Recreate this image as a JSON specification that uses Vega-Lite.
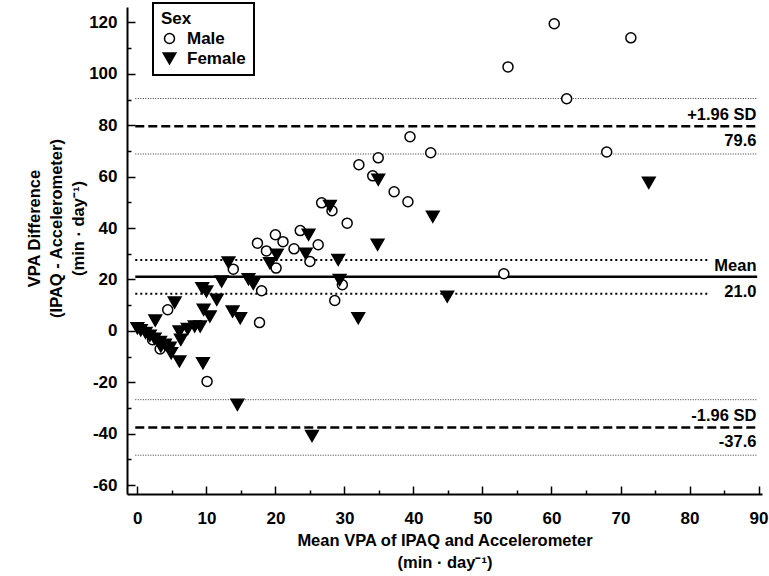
{
  "$schema": "https://vega.github.io/schema/vega-lite/v6.json",
  "width": 635,
  "height": 487,
  "autosize": {"type": "none"},
  "padding": {"left": 127, "top": 7, "right": 7, "bottom": 82},
  "background": "white",
  "config": {
    "view": {"stroke": null},
    "font": "Liberation Sans",
    "legend": {"strokeWidth": 2},
    "axis": {
      "grid": false,
      "domainColor": "black",
      "domainWidth": 2,
      "tickColor": "black",
      "tickWidth": 1.5,
      "labelColor": "black",
      "titleColor": "black",
      "labelFont": "Liberation Sans",
      "titleFont": "Liberation Sans",
      "labelFontSize": 17,
      "labelFontWeight": "bold",
      "titleFontSize": 16.5,
      "titleFontWeight": "bold",
      "titleLineHeight": 22,
      "labelFlush": false,
      "labelOverlap": false
    }
  },
  "encoding": {
    "x": {
      "field": "x",
      "type": "quantitative",
      "scale": {"domain": [-1.5, 90.5], "nice": false, "zero": false},
      "axis": {
        "values": [0, 5, 10, 15, 20, 25, 30, 35, 40, 45, 50, 55, 60, 65, 70, 75, 80, 85, 90],
        "labelExpr": "datum.value % 10 === 0 ? datum.label : ''",
        "tickSize": {"condition": {"test": "datum.value % 10 === 0", "value": -8}, "value": -4},
        "labelPadding": 24,
        "titlePadding": 2,
        "title": ["Mean VPA of IPAQ and Accelerometer", "(min · day⁻¹)"]
      }
    },
    "y": {
      "field": "y",
      "type": "quantitative",
      "scale": {"domain": [-63.5, 126], "nice": false, "zero": false},
      "axis": {
        "values": [-60, -50, -40, -30, -20, -10, 0, 10, 20, 30, 40, 50, 60, 70, 80, 90, 100, 110, 120],
        "labelExpr": "datum.value % 20 === 0 ? replace(datum.label, '−', '-') : ''",
        "tickSize": {"condition": {"test": "datum.value % 20 === 0", "value": -8}, "value": -4},
        "labelPadding": 18,
        "titlePadding": 2,
        "titleY": 221,
        "title": ["VPA Difference", "(IPAQ - Accelerometer)", "(min · day⁻¹)"]
      }
    }
  },
  "layer": [
    {
      "data": {"values": [
        {"x": -0.3, "xe": 89.8, "y": 90.4},
        {"x": -0.3, "xe": 89.8, "y": 68.8},
        {"x": -0.3, "xe": 89.8, "y": -26.8},
        {"x": -0.3, "xe": 89.8, "y": -48.4}
      ]},
      "mark": {"type": "rule", "strokeDash": [1, 1.5], "strokeWidth": 1, "color": "#333333"},
      "encoding": {"x2": {"field": "xe"}}
    },
    {
      "data": {"values": [
        {"x": -0.3, "xe": 83.0, "y": 27.6},
        {"x": -0.3, "xe": 83.0, "y": 14.4}
      ]},
      "mark": {"type": "rule", "strokeDash": [2, 3], "strokeWidth": 2, "color": "black"},
      "encoding": {"x2": {"field": "xe"}}
    },
    {
      "data": {"values": [
        {"x": -0.3, "xe": 89.8, "y": 79.6},
        {"x": -0.3, "xe": 89.8, "y": -37.6}
      ]},
      "mark": {"type": "rule", "strokeDash": [9, 4], "strokeWidth": 2.5, "color": "black"},
      "encoding": {"x2": {"field": "xe"}}
    },
    {
      "data": {"values": [
        {"x": -0.3, "xe": 89.8, "y": 21.0}
      ]},
      "mark": {"type": "rule", "strokeWidth": 2.5, "color": "black"},
      "encoding": {"x2": {"field": "xe"}}
    },
    {
      "data": {"values": [
        {"x": 60.4, "y": 119.5, "sex": "Male"},
        {"x": 71.5, "y": 114.0, "sex": "Male"},
        {"x": 53.7, "y": 102.7, "sex": "Male"},
        {"x": 62.2, "y": 90.3, "sex": "Male"},
        {"x": 39.5, "y": 75.5, "sex": "Male"},
        {"x": 42.5, "y": 69.3, "sex": "Male"},
        {"x": 68.0, "y": 69.6, "sex": "Male"},
        {"x": 34.9, "y": 67.3, "sex": "Male"},
        {"x": 32.1, "y": 64.6, "sex": "Male"},
        {"x": 34.1, "y": 60.3, "sex": "Male"},
        {"x": 37.2, "y": 54.1, "sex": "Male"},
        {"x": 39.2, "y": 50.2, "sex": "Male"},
        {"x": 26.7, "y": 49.8, "sex": "Male"},
        {"x": 28.2, "y": 46.7, "sex": "Male"},
        {"x": 30.4, "y": 41.9, "sex": "Male"},
        {"x": 20.0, "y": 37.4, "sex": "Male"},
        {"x": 23.6, "y": 39.0, "sex": "Male"},
        {"x": 17.4, "y": 34.1, "sex": "Male"},
        {"x": 21.1, "y": 34.7, "sex": "Male"},
        {"x": 26.2, "y": 33.5, "sex": "Male"},
        {"x": 18.7, "y": 31.1, "sex": "Male"},
        {"x": 22.7, "y": 31.9, "sex": "Male"},
        {"x": 20.1, "y": 24.4, "sex": "Male"},
        {"x": 25.0, "y": 27.0, "sex": "Male"},
        {"x": 13.9, "y": 24.0, "sex": "Male"},
        {"x": 29.7, "y": 17.9, "sex": "Male"},
        {"x": 18.0, "y": 15.6, "sex": "Male"},
        {"x": 28.6, "y": 11.8, "sex": "Male"},
        {"x": 17.7, "y": 3.2, "sex": "Male"},
        {"x": 4.4, "y": 8.2, "sex": "Male"},
        {"x": 2.2, "y": -3.5, "sex": "Male"},
        {"x": 3.3, "y": -7.1, "sex": "Male"},
        {"x": 10.1, "y": -19.7, "sex": "Male"},
        {"x": 53.1, "y": 22.2, "sex": "Male"},
        {"x": 34.9, "y": 58.8, "sex": "Female"},
        {"x": 74.1, "y": 57.6, "sex": "Female"},
        {"x": 42.8, "y": 44.4, "sex": "Female"},
        {"x": 27.9, "y": 48.6, "sex": "Female"},
        {"x": 24.8, "y": 37.4, "sex": "Female"},
        {"x": 20.2, "y": 29.6, "sex": "Female"},
        {"x": 24.4, "y": 30.0, "sex": "Female"},
        {"x": 19.2, "y": 26.3, "sex": "Female"},
        {"x": 29.1, "y": 27.6, "sex": "Female"},
        {"x": 13.2, "y": 26.6, "sex": "Female"},
        {"x": 12.2, "y": 19.2, "sex": "Female"},
        {"x": 16.1, "y": 20.1, "sex": "Female"},
        {"x": 16.8, "y": 18.3, "sex": "Female"},
        {"x": 29.3, "y": 19.8, "sex": "Female"},
        {"x": 9.4, "y": 16.6, "sex": "Female"},
        {"x": 10.0, "y": 15.3, "sex": "Female"},
        {"x": 11.5, "y": 12.1, "sex": "Female"},
        {"x": 9.6, "y": 8.2, "sex": "Female"},
        {"x": 10.5, "y": 5.6, "sex": "Female"},
        {"x": 13.8, "y": 7.5, "sex": "Female"},
        {"x": 14.9, "y": 4.9, "sex": "Female"},
        {"x": 9.1, "y": 1.7, "sex": "Female"},
        {"x": 5.4, "y": 11.0, "sex": "Female"},
        {"x": 2.6, "y": 4.0, "sex": "Female"},
        {"x": 0.0, "y": 1.0, "sex": "Female"},
        {"x": 0.5, "y": 0.2, "sex": "Female"},
        {"x": 1.2, "y": -0.8, "sex": "Female"},
        {"x": 1.8, "y": -1.9, "sex": "Female"},
        {"x": 2.5, "y": -3.1, "sex": "Female"},
        {"x": 3.3, "y": -4.3, "sex": "Female"},
        {"x": 4.0, "y": -5.4, "sex": "Female"},
        {"x": 4.7, "y": -6.6, "sex": "Female"},
        {"x": 7.3, "y": 0.7, "sex": "Female"},
        {"x": 6.1, "y": -0.3, "sex": "Female"},
        {"x": 8.3, "y": 1.7, "sex": "Female"},
        {"x": 6.3, "y": -3.5, "sex": "Female"},
        {"x": 4.9, "y": -8.7, "sex": "Female"},
        {"x": 6.1, "y": -11.9, "sex": "Female"},
        {"x": 3.4, "y": -6.1, "sex": "Female"},
        {"x": 9.5, "y": -12.6, "sex": "Female"},
        {"x": 14.5, "y": -28.8, "sex": "Female"},
        {"x": 34.8, "y": 33.5, "sex": "Female"},
        {"x": 44.9, "y": 13.3, "sex": "Female"},
        {"x": 32.0, "y": 4.9, "sex": "Female"},
        {"x": 25.3, "y": -40.9, "sex": "Female"}
      ]},
      "mark": {"type": "point", "filled": true, "strokeWidth": 1.5, "opacity": 1},
      "encoding": {
        "shape": {
          "field": "sex", "type": "nominal",
          "scale": {"domain": ["Male", "Female"], "range": ["circle", "triangle-down"]},
          "legend": {"orient": "none", "legendX": 26, "legendY": -4, "title": "Sex", "titleFontSize": 17, "titleFontWeight": "bold", "titleColor": "black", "titlePadding": 2, "labelFontSize": 17, "labelFontWeight": "bold", "labelColor": "black", "labelOffset": 9, "strokeColor": "black", "fillColor": "white", "padding": 8, "symbolStrokeWidth": 1.5, "rowPadding": 2}
        },
        "fill": {
          "field": "sex", "type": "nominal",
          "scale": {"domain": ["Male", "Female"], "range": ["white", "black"]},
          "legend": {"orient": "none", "legendX": 26, "legendY": -4, "title": "Sex", "titleFontSize": 17, "titleFontWeight": "bold", "titleColor": "black", "titlePadding": 2, "labelFontSize": 17, "labelFontWeight": "bold", "labelColor": "black", "labelOffset": 9, "strokeColor": "black", "fillColor": "white", "padding": 8, "symbolStrokeWidth": 1.5, "rowPadding": 2}
        },
        "stroke": {
          "field": "sex", "type": "nominal",
          "scale": {"domain": ["Male", "Female"], "range": ["black", "black"]},
          "legend": {"orient": "none", "legendX": 26, "legendY": -4, "title": "Sex", "titleFontSize": 17, "titleFontWeight": "bold", "titleColor": "black", "titlePadding": 2, "labelFontSize": 17, "labelFontWeight": "bold", "labelColor": "black", "labelOffset": 9, "strokeColor": "black", "fillColor": "white", "padding": 8, "symbolStrokeWidth": 1.5, "rowPadding": 2}
        },
        "size": {
          "field": "sex", "type": "nominal",
          "scale": {"domain": ["Male", "Female"], "range": [100, 160]},
          "legend": {"orient": "none", "legendX": 26, "legendY": -4, "title": "Sex", "titleFontSize": 17, "titleFontWeight": "bold", "titleColor": "black", "titlePadding": 2, "labelFontSize": 17, "labelFontWeight": "bold", "labelColor": "black", "labelOffset": 9, "strokeColor": "black", "fillColor": "white", "padding": 8, "symbolStrokeWidth": 1.5, "rowPadding": 2}
        }
      }
    },
    {
      "data": {"values": [
        {"x": 89.7, "y": 79.6, "t": "+1.96 SD"},
        {"x": 89.7, "y": 21.0, "t": "Mean"},
        {"x": 89.7, "y": -37.6, "t": "-1.96 SD"}
      ]},
      "mark": {"type": "text", "align": "right", "baseline": "alphabetic", "dy": -6, "fontSize": 16.5, "fontWeight": "bold", "color": "black"},
      "encoding": {"text": {"field": "t"}}
    },
    {
      "data": {"values": [
        {"x": 89.7, "y": 79.6, "t": "79.6"},
        {"x": 89.7, "y": 21.0, "t": "21.0"},
        {"x": 89.7, "y": -37.6, "t": "-37.6"}
      ]},
      "mark": {"type": "text", "align": "right", "baseline": "alphabetic", "dy": 20, "fontSize": 16.5, "fontWeight": "bold", "color": "black"},
      "encoding": {"text": {"field": "t"}}
    }
  ]
}
